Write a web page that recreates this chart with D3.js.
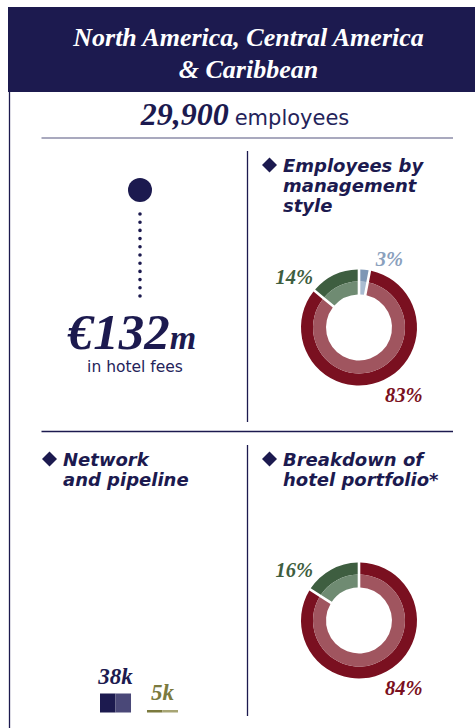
<!DOCTYPE html>
<html>
<head>
<meta charset="utf-8">
<script src="https://cdn.jsdelivr.net/npm/d3@7"></script>
<style>
  html, body { margin: 0; padding: 0; background: #ffffff; }
  svg { display: block; }
</style>
</head>
<body>
<div id="chart"></div>
<script>
// ---------------- DATA ----------------
const titleLines = ["North America, Central America", "& Caribbean"];
const employeesValue = "29,900";
const employeesLabel = "employees";
const feesValue = "€132";
const feesUnit = "m";
const feesLabel = "in hotel fees";

const mgmtTitle = ["Employees by", "management", "style"];
const mgmtCategories = ["Owned & leased", "Managed", "Franchised"];
const mgmtValues = [3, 83, 14];

const portfolioTitle = ["Breakdown of", "hotel portfolio*"];
const portfolioCategories = ["Managed", "Franchised"];
const portfolioValues = [84, 16];

const networkTitle = ["Network", "and pipeline"];
const networkCategories = ["Network", "Pipeline"];
const networkValues = [38, 5];            // thousands of rooms
const networkLabels = ["38k", "5k"];

// ---------------- STYLE ----------------
const W = 475, H = 728;
const NAVY = "#1c1a4f";
const serif = "'Liberation Serif', 'Times New Roman', serif";
const sans = "'DejaVu Sans', Verdana, sans-serif";

const sliceColors = {
  "Owned & leased": { dark: "#7d97b5", light: "#a9bcd1", text: "#8aa0bd" },
  "Managed":        { dark: "#7a1020", light: "#a0555f", text: "#7a1020" },
  "Franchised":     { dark: "#3e5e40", light: "#6f8b72", text: "#3e5e40" }
};
const barColors = [
  { dark: "#1c1a4f", light: "#4a4878", text: "#1c1a4f" },
  { dark: "#7b7a3e", light: "#a7a574", text: "#7b7a3e" }
];
// label placement around donut (degrees clockwise from 12 o'clock, radius)
const labelPlacement = {
  "Owned & leased": { angle: 24, r: 75 },
  "Managed": { angle: 146.5, r: 81 },
  "Franchised": { angle: 308, r: 82 }
};

const svg = d3.select("#chart").append("svg")
  .attr("width", W).attr("height", H)
  .attr("viewBox", `0 0 ${W} ${H}`);

// ---------------- HEADER ----------------
svg.append("rect").attr("x", 8).attr("y", 7).attr("width", W - 8).attr("height", 85)
  .attr("fill", NAVY);
svg.append("g").selectAll("text").data(titleLines).join("text")
  .attr("x", 248.5).attr("y", (d, i) => 45.5 + i * 32)
  .attr("text-anchor", "middle")
  .attr("font-family", serif).attr("font-weight", "bold").attr("font-style", "italic")
  .attr("font-size", 26).attr("fill", "#ffffff")
  .text(d => d);

// frame lines
svg.append("line").attr("x1", 9.5).attr("x2", 9.5).attr("y1", 92).attr("y2", H)
  .attr("stroke", NAVY).attr("stroke-width", 1.3);
svg.append("line").attr("x1", 41.5).attr("x2", 453).attr("y1", 138).attr("y2", 138)
  .attr("stroke", "#8d8da8").attr("stroke-width", 1.3);
svg.append("line").attr("x1", 41.5).attr("x2", 453).attr("y1", 431.5).attr("y2", 431.5)
  .attr("stroke", NAVY).attr("stroke-width", 1.3);
svg.append("line").attr("x1", 247.5).attr("x2", 247.5).attr("y1", 151).attr("y2", 422)
  .attr("stroke", NAVY).attr("stroke-width", 1.3);
svg.append("line").attr("x1", 247.5).attr("x2", 247.5).attr("y1", 445).attr("y2", 716)
  .attr("stroke", NAVY).attr("stroke-width", 1.3);

// employees line
const emp = svg.append("text").attr("x", 245).attr("y", 125).attr("text-anchor", "middle");
emp.append("tspan").attr("font-family", serif).attr("font-weight", "bold").attr("font-style", "italic")
  .attr("font-size", 32).attr("fill", NAVY).text(employeesValue);
emp.append("tspan").attr("dx", 6).attr("font-family", sans).attr("font-size", 21)
  .attr("fill", "#24235a").text(employeesLabel);

// ---------------- FEES (lollipop) ----------------
const fx = 140;
svg.append("line").attr("x1", fx).attr("x2", fx).attr("y1", 214).attr("y2", 297)
  .attr("stroke", NAVY).attr("stroke-width", 3.6).attr("stroke-linecap", "round")
  .attr("stroke-dasharray", "0,8.2");
svg.append("circle").attr("cx", fx).attr("cy", 190).attr("r", 12).attr("fill", NAVY);
const fees = svg.append("text").attr("x", 132).attr("y", 348.5).attr("text-anchor", "middle")
  .attr("font-family", serif).attr("font-weight", "bold").attr("font-style", "italic").attr("fill", NAVY);
fees.append("tspan").attr("font-size", 51).text(feesValue);
fees.append("tspan").attr("font-size", 34).text(feesUnit);
svg.append("text").attr("x", 135).attr("y", 371.5).attr("text-anchor", "middle")
  .attr("font-family", sans).attr("font-size", 15.5).attr("fill", "#24235a").text(feesLabel);

// ---------------- HEADINGS ----------------
function heading(x, y, lines) {
  const g = svg.append("g");
  g.append("rect").attr("x", -5.3).attr("y", -5.3).attr("width", 10.6).attr("height", 10.6)
    .attr("transform", `translate(${x},${y - 6.5}) rotate(45)`).attr("fill", NAVY);
  g.selectAll("text.h").data(lines).join("text").attr("class", "h")
    .attr("x", x + 13.5).attr("y", (d, i) => y + i * 20.3)
    .attr("font-family", sans).attr("font-weight", "bold").attr("font-style", "italic")
    .attr("font-size", 18).attr("fill", NAVY).text(d => d);
}
heading(269.5, 171.5, mgmtTitle);
heading(49.5, 465.5, networkTitle);
heading(269.5, 465.5, portfolioTitle);

// ---------------- DONUTS ----------------
const rInner = 33, rMid = 46, rOuter = 58;
function donut(cx, cy, cats, vals) {
  const data = cats.map((c, i) => ({ cat: c, value: vals[i] }));
  const pie = d3.pie().sort(null).value(d => d.value);
  const arcs = pie(data);
  const outerArc = d3.arc().innerRadius(rMid).outerRadius(rOuter).padAngle(0.045).padRadius(rOuter);
  const innerArc = d3.arc().innerRadius(rInner).outerRadius(rMid).padAngle(0.045).padRadius(rOuter);
  const g = svg.append("g").attr("transform", `translate(${cx},${cy})`);
  g.selectAll("path.o").data(arcs).join("path").attr("class", "o")
    .attr("d", outerArc).attr("fill", d => sliceColors[d.data.cat].dark);
  g.selectAll("path.i").data(arcs).join("path").attr("class", "i")
    .attr("d", innerArc).attr("fill", d => sliceColors[d.data.cat].light);
  g.selectAll("text").data(arcs).join("text")
    .attr("x", d => labelPlacement[d.data.cat].r * Math.sin(labelPlacement[d.data.cat].angle * Math.PI / 180))
    .attr("y", d => -labelPlacement[d.data.cat].r * Math.cos(labelPlacement[d.data.cat].angle * Math.PI / 180))
    .attr("dy", "0.33em")
    .attr("text-anchor", "middle")
    .attr("font-family", serif).attr("font-weight", "bold").attr("font-style", "italic")
    .attr("font-size", 20.5).attr("fill", d => sliceColors[d.data.cat].text)
    .text(d => Math.round(d.data.value) + "%");
}
donut(359, 327.5, mgmtCategories, mgmtValues);
donut(359, 620.5, portfolioCategories, portfolioValues);

// ---------------- NETWORK BARS ----------------
const xb = d3.scaleBand().domain(networkCategories).range([100, 178]).paddingInner(0.34);
const yb = d3.scaleLinear().domain([0, 38]).range([712.5, 693.5]);
const bars = svg.append("g");
networkCategories.forEach((c, i) => {
  const x0 = xb(c), bw = xb.bandwidth(), v = networkValues[i];
  bars.append("rect").attr("x", x0).attr("width", bw / 2)
    .attr("y", yb(v)).attr("height", yb(0) - yb(v)).attr("fill", barColors[i].dark);
  bars.append("rect").attr("x", x0 + bw / 2).attr("width", bw / 2)
    .attr("y", yb(v)).attr("height", yb(0) - yb(v)).attr("fill", barColors[i].light);
  bars.append("text").attr("x", x0 + bw / 2).attr("y", yb(v) - 10)
    .attr("text-anchor", "middle")
    .attr("font-family", serif).attr("font-weight", "bold").attr("font-style", "italic")
    .attr("font-size", 23).attr("fill", barColors[i].text).text(networkLabels[i]);
});
</script>
</body>
</html>
